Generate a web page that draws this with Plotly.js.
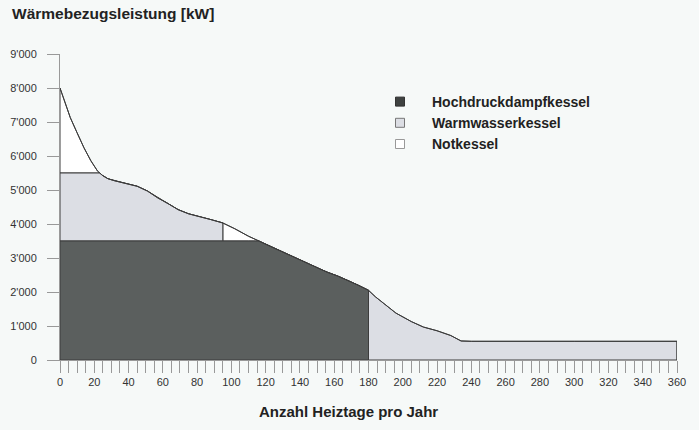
<!DOCTYPE html>
<html>
<head>
<meta charset="utf-8">
<script src="https://cdn.plot.ly/plotly-3.0.1.min.js"></script>
<style>html,body{margin:0;padding:0;background:#f6f9f8;}#chart{width:699px;height:430px;}</style>
</head>
<body>
<div id="chart"></div>
<script>
// Jahresdauerlinie (load duration curve)
const days = [0,3,6,10,14,18,22,25,28,32,38,45,51,57,63,69,75,82,88,95,102,110,116,124,131,138,144,150,156,162,168,174,180,184,189,196,205,212,220,228,234,240,300,360];
const load = [8000,7580,7130,6680,6240,5860,5550,5420,5330,5270,5200,5110,4970,4770,4600,4420,4300,4220,4130,4030,3860,3640,3500,3310,3150,2990,2850,2700,2580,2470,2340,2200,2050,1860,1660,1380,1130,970,860,720,560,550,550,550];

// Kessel capacities / operating periods
const hdCapacity = 3500;     // Hochdruckdampfkessel top
const wwTop = 5500;          // Warmwasserkessel top (stacked)
const hdEndDay = 180;        // Hochdruckdampfkessel runs until day 180
const wwEndDay = 95;         // Warmwasserkessel (upper band) until day 95

const seriesNames = ['Hochdruckdampfkessel','Warmwasserkessel','Notkessel'];
const xTicks = [0,20,40,60,80,100,120,140,160,180,200,220,240,260,280,300,320,340,360];
const yTicks = [0,1000,2000,3000,4000,5000,6000,7000,8000,9000];
const yTickText = ["0","1'000","2'000","3'000","4'000","5'000","6'000","7'000","8'000","9'000"];

function interp(x){
  for(let i=0;i<days.length-1;i++){
    if(x>=days[i] && x<=days[i+1]){
      const t=(x-days[i])/(days[i+1]-days[i]);
      return load[i]+t*(load[i+1]-load[i]);
    }
  }
  return load[load.length-1];
}
// curve clipped at cap over [x0,x1], with crossing points inserted
function clip(x0,x1,cap){
  let xs=[x0];
  for(let i=0;i<days.length;i++){ if(days[i]>x0 && days[i]<x1) xs.push(days[i]); }
  for(let i=0;i<days.length-1;i++){
    if((load[i]-cap)*(load[i+1]-cap)<0){
      const xc=days[i]+(cap-load[i])/(load[i+1]-load[i])*(days[i+1]-days[i]);
      if(xc>x0 && xc<x1) xs.push(xc);
    }
  }
  xs.push(x1);
  xs.sort((a,b)=>a-b);
  return {x:xs, y:xs.map(v=>Math.min(interp(v),cap))};
}
function poly(top, bx, by){
  return {x: top.x.concat(bx, [top.x[0]]), y: top.y.concat(by, [top.y[0]])};
}

const cDark='#5b5f5e', cLight='#dcdee4', cWhite='#ffffff', cLine='#3c3c3c';

const hdTop = clip(0,hdEndDay,hdCapacity);
const hd = poly(hdTop,[hdEndDay,0],[0,0]);
const ww1Top = clip(0,wwEndDay,wwTop);
const ww1 = poly(ww1Top,[wwEndDay,0],[hdCapacity,hdCapacity]);
const ww2Top = clip(hdEndDay,360,Infinity);
const ww2 = poly(ww2Top,[360,hdEndDay],[0,0]);
const n1c = clip(0,wwEndDay,Infinity), n1b = clip(0,wwEndDay,wwTop);
const n1 = poly(n1c, n1b.x.slice().reverse(), n1b.y.slice().reverse());
const n2c = clip(wwEndDay,hdEndDay,Infinity), n2b = clip(wwEndDay,hdEndDay,hdCapacity);
const n2 = poly(n2c, n2b.x.slice().reverse(), n2b.y.slice().reverse());

function area(p, fill){
  return {x:p.x, y:p.y, type:'scatter', mode:'lines', fill:'toself', fillcolor:fill,
    line:{color:cLine,width:1}, showlegend:false, hoverinfo:'skip'};
}
const traces = [
  area(n1,cWhite), area(n2,cWhite),
  area(ww1,cLight), area(ww2,cLight),
  area(hd,cDark),
  {x:days.concat([360]), y:load.concat([0]), type:'scatter', mode:'lines', line:{color:cLine,width:1}, showlegend:false, hoverinfo:'skip'}
];
const legendStyles = [
  {color:'#3f4241', line:'#333'},
  {color:cLight, line:'#777'},
  {color:'#ffffff', line:'#999'}
];
seriesNames.forEach((n,i)=>{
  traces.push({x:[null], y:[null], type:'scatter', mode:'markers', name:n, legendgroup:'g'+i,
    marker:{symbol:'square', size:9, color:legendStyles[i].color, line:{color:legendStyles[i].line,width:1}}});
});

const layout = {
  width:699, height:430,
  margin:{l:60, r:22, t:54, b:70},
  paper_bgcolor:'#f6f9f8', plot_bgcolor:'#f6f9f8',
  font:{family:'Liberation Sans, Arial, sans-serif', color:'#333', size:11},
  title:{text:'Wärmebezugsleistung [kW]', x:12/699, xanchor:'left', xref:'container',
    y:1-14/430, yanchor:'middle', yref:'container',
    font:{family:'Liberation Sans, Arial, sans-serif', size:15.5, weight:700, color:'#222'}},
  xaxis:{range:[0,360], tickvals:xTicks, ticktext:xTicks.map(String), ticks:'outside', ticklen:12,
    tickcolor:'#999', tickwidth:1, showgrid:false, zeroline:false, showline:true, linecolor:'#999', linewidth:1,
    minor:{dtick:5, ticks:'outside', ticklen:12, tickcolor:'#999', tickwidth:1, showgrid:false},
    tickfont:{size:11, color:'#333'}, fixedrange:true},
  yaxis:{range:[0,9000], tickvals:yTicks, ticktext:yTickText, ticks:'outside', ticklen:12,
    tickcolor:'#999', tickwidth:1, showgrid:false, zeroline:false, showline:true, linecolor:'#999', linewidth:1,
    ticklabelstandoff:8, tickfont:{size:11, color:'#333'}, fixedrange:true},
  legend:{x:(368-60)/617, xanchor:'left', y:1-(86-54)/306, yanchor:'top', bgcolor:'rgba(0,0,0,0)',
    itemwidth:54, tracegroupgap:0.5, traceorder:'normal',
    font:{family:'Liberation Sans, Arial, sans-serif', size:14, weight:700, color:'#222'}},
  annotations:[{text:'Anzahl Heiztage pro Jahr', xref:'paper', yref:'paper', x:(348-60)/617, y:-(411-360)/306,
    xanchor:'center', yanchor:'middle', showarrow:false,
    font:{family:'Liberation Sans, Arial, sans-serif', size:15, weight:700, color:'#222'}}]
};
Plotly.newPlot('chart', traces, layout, {displayModeBar:false, staticPlot:true});
</script>
</body>
</html>
